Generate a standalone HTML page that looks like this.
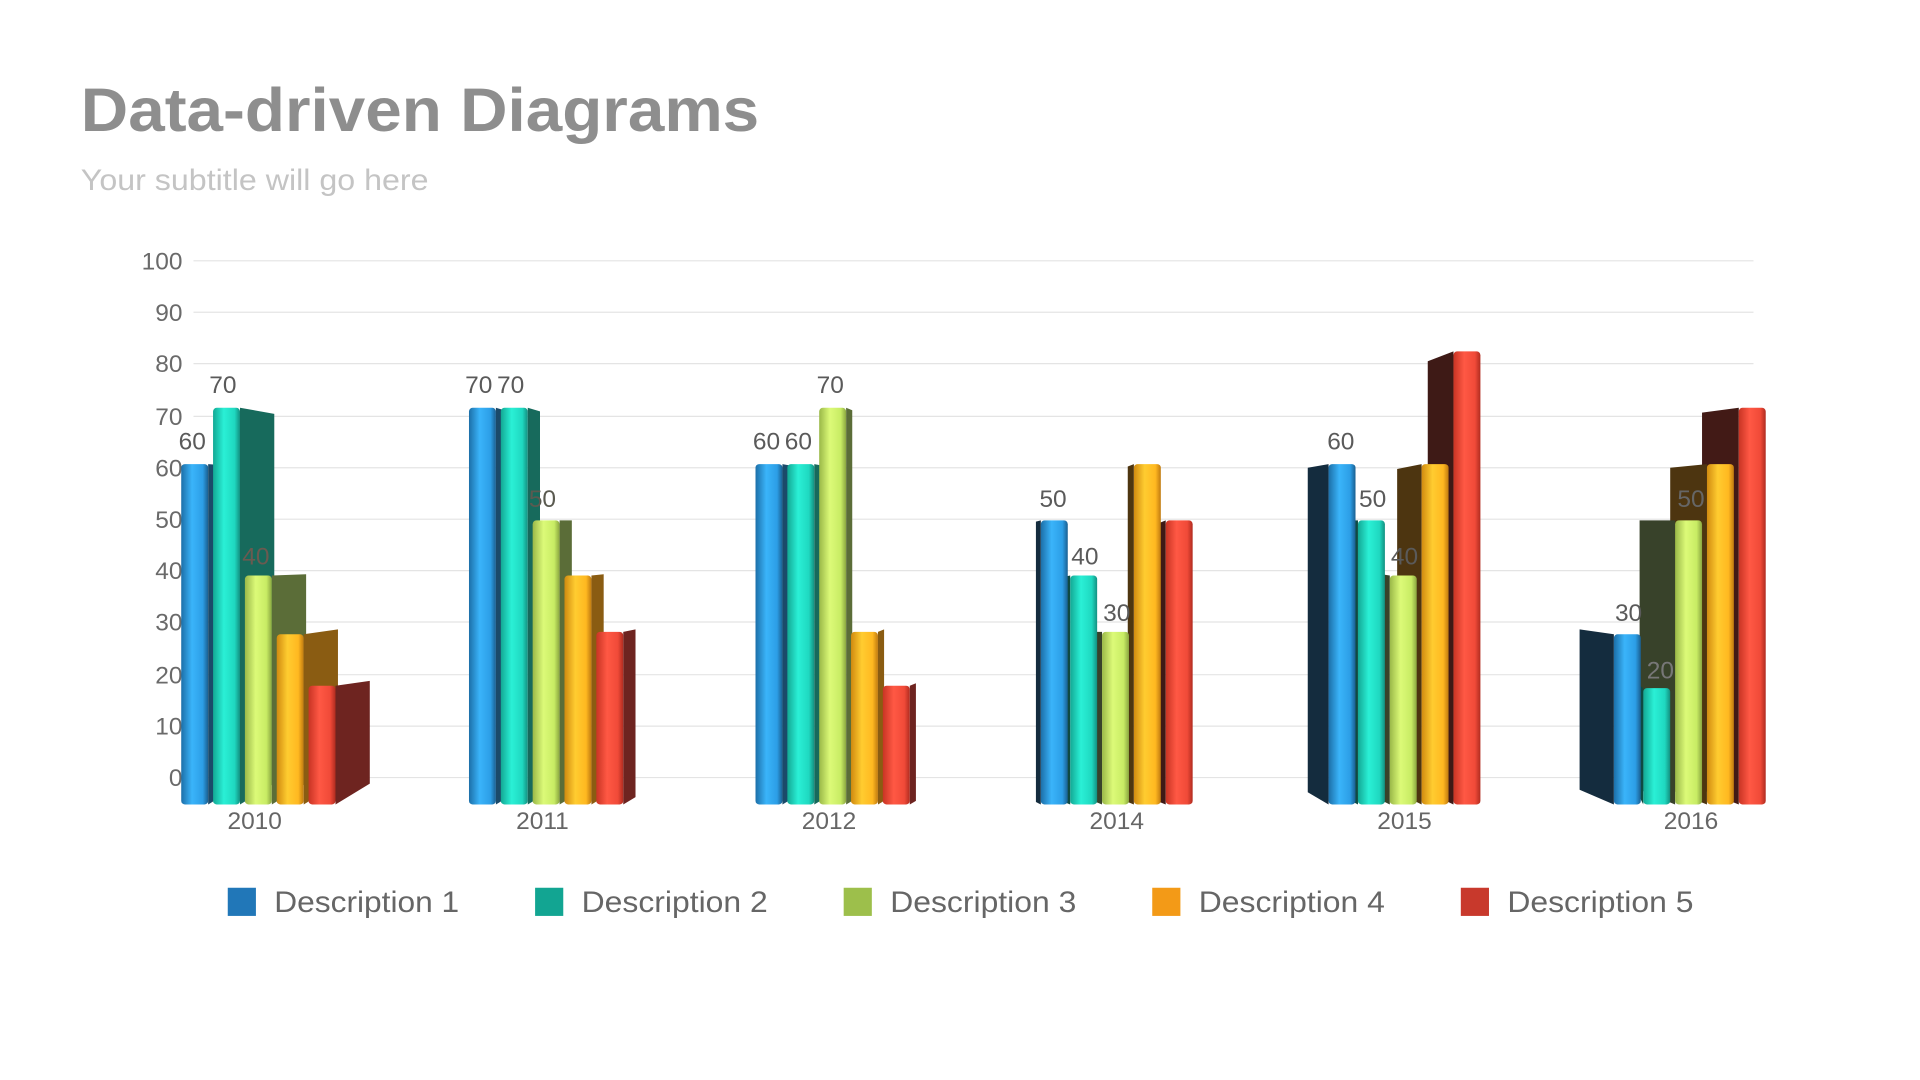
<!DOCTYPE html>
<html><head><meta charset="utf-8"><style>
html,body{margin:0;padding:0;background:#fff;width:1920px;height:1080px;overflow:hidden}
svg{display:block}
text{font-family:"Liberation Sans",Arial,sans-serif}
</style></head><body>
<svg width="1920" height="1080" viewBox="0 0 1568 882" xmlns="http://www.w3.org/2000/svg">
<defs>
<linearGradient id="g1" x1="0" x2="1" y1="0" y2="0"><stop offset="0" stop-color="#1c6fa8"/><stop offset="0.4" stop-color="#3ab4fa"/><stop offset="0.8" stop-color="#2c9ee6"/><stop offset="1" stop-color="#1a5f90"/></linearGradient>
<linearGradient id="g2" x1="0" x2="1" y1="0" y2="0"><stop offset="0" stop-color="#13a894"/><stop offset="0.4" stop-color="#2af0d6"/><stop offset="0.8" stop-color="#1fd8c0"/><stop offset="1" stop-color="#139080"/></linearGradient>
<linearGradient id="g3" x1="0" x2="1" y1="0" y2="0"><stop offset="0" stop-color="#9ab848"/><stop offset="0.4" stop-color="#dcfa78"/><stop offset="0.8" stop-color="#c8ec64"/><stop offset="1" stop-color="#8aa640"/></linearGradient>
<linearGradient id="g4" x1="0" x2="1" y1="0" y2="0"><stop offset="0" stop-color="#d08a10"/><stop offset="0.4" stop-color="#ffcc30"/><stop offset="0.8" stop-color="#ffb820"/><stop offset="1" stop-color="#c07a10"/></linearGradient>
<linearGradient id="g5" x1="0" x2="1" y1="0" y2="0"><stop offset="0" stop-color="#c83424"/><stop offset="0.4" stop-color="#ff5844"/><stop offset="0.8" stop-color="#f04a38"/><stop offset="1" stop-color="#b02c20"/></linearGradient>
</defs>

<text x="66" y="107" font-size="50" font-weight="bold" fill="#8e8e8e" textLength="554" lengthAdjust="spacingAndGlyphs">Data-driven Diagrams</text>
<text x="66" y="155" font-size="24" fill="#c4c4c4" textLength="284" lengthAdjust="spacingAndGlyphs">Your subtitle will go here</text>

<g stroke="#e4e4e4" stroke-width="1">
<line x1="158" y1="213" x2="1432" y2="213"/><line x1="158" y1="255" x2="1432" y2="255"/><line x1="158" y1="297" x2="1432" y2="297"/><line x1="158" y1="340" x2="1432" y2="340"/><line x1="158" y1="382" x2="1432" y2="382"/><line x1="158" y1="424" x2="1432" y2="424"/><line x1="158" y1="466" x2="1432" y2="466"/><line x1="158" y1="508" x2="1432" y2="508"/><line x1="158" y1="551" x2="1432" y2="551"/><line x1="158" y1="593" x2="1432" y2="593"/><line x1="158" y1="635" x2="1432" y2="635"/>
</g>
<g font-size="20" fill="#6a6a6a" text-anchor="end">
<text x="149" y="220">100</text><text x="149" y="262">90</text><text x="149" y="304">80</text><text x="149" y="347">70</text><text x="149" y="389">60</text><text x="149" y="431">50</text><text x="149" y="473">40</text><text x="149" y="515">30</text><text x="149" y="558">20</text><text x="149" y="600">10</text><text x="149" y="642">0</text>
</g>

<!-- 2010 -->
<polygon points="170,379 198,381 198,640 170,657" fill="#1b4a6a"/><rect x="148" y="379" width="22" height="278" rx="3" fill="url(#g1)"/>
<polygon points="196,333 224,338 224,640 196,657" fill="#176a5c"/><rect x="174" y="333" width="22" height="324" rx="3" fill="url(#g2)"/>
<polygon points="222,470 250,469 250,640 222,657" fill="#5b6d38"/><rect x="200" y="470" width="22" height="187" rx="3" fill="url(#g3)"/>
<polygon points="248,518 276,514 276,640 248,657" fill="#8a5c12"/><rect x="226" y="518" width="22" height="139" rx="3" fill="url(#g4)"/>
<polygon points="274,560 302,556 302,640 274,657" fill="#6e2420"/><rect x="252" y="560" width="22" height="97" rx="3" fill="url(#g5)"/>
<!-- 2011 -->
<polygon points="405,333 415,336 415,651 405,657" fill="#1b4a6a"/><rect x="383" y="333" width="22" height="324" rx="3" fill="url(#g1)"/>
<polygon points="431,333 441,336 441,651 431,657" fill="#176a5c"/><rect x="409" y="333" width="22" height="324" rx="3" fill="url(#g2)"/>
<polygon points="457,425 467,425 467,651 457,657" fill="#5b6d38"/><rect x="435" y="425" width="22" height="232" rx="3" fill="url(#g3)"/>
<polygon points="483,470 493,469 493,651 483,657" fill="#8a5c12"/><rect x="461" y="470" width="22" height="187" rx="3" fill="url(#g4)"/>
<polygon points="509,516 519,514 519,651 509,657" fill="#6e2420"/><rect x="487" y="516" width="22" height="141" rx="3" fill="url(#g5)"/>
<!-- 2012 -->
<polygon points="639,379 644,380 644,654 639,657" fill="#1b4a6a"/><rect x="617" y="379" width="22" height="278" rx="3" fill="url(#g1)"/>
<polygon points="665,379 670,380 670,654 665,657" fill="#176a5c"/><rect x="643" y="379" width="22" height="278" rx="3" fill="url(#g2)"/>
<polygon points="691,333 696,335 696,654 691,657" fill="#5b6d38"/><rect x="669" y="333" width="22" height="324" rx="3" fill="url(#g3)"/>
<polygon points="717,516 722,514 722,654 717,657" fill="#8a5c12"/><rect x="695" y="516" width="22" height="141" rx="3" fill="url(#g4)"/>
<polygon points="743,560 748,558 748,654 743,657" fill="#6e2420"/><rect x="721" y="560" width="22" height="97" rx="3" fill="url(#g5)"/>
<!-- 2014 -->
<polygon points="952,425 947,427 947,655 952,657" fill="#3e1a16"/><rect x="952" y="425" width="22" height="232" rx="3" fill="url(#g5)"/>
<polygon points="926,379 921,381 921,655 926,657" fill="#4d3510"/><rect x="926" y="379" width="22" height="278" rx="3" fill="url(#g4)"/>
<polygon points="900,516 895,516 895,655 900,657" fill="#38422a"/><rect x="900" y="516" width="22" height="141" rx="3" fill="url(#g3)"/>
<polygon points="874,470 869,471 869,655 874,657" fill="#0f4a42"/><rect x="874" y="470" width="22" height="187" rx="3" fill="url(#g2)"/>
<polygon points="850,425 846,426 846,655 850,657" fill="#142c3e"/><rect x="850" y="425" width="22" height="232" rx="3" fill="url(#g1)"/>
<!-- 2015 -->
<polygon points="1187,287 1166,295 1166,647 1187,657" fill="#3e1a16"/><rect x="1187" y="287" width="22" height="370" rx="3" fill="url(#g5)"/>
<polygon points="1161,379 1141,383 1141,647 1161,657" fill="#4d3510"/><rect x="1161" y="379" width="22" height="278" rx="3" fill="url(#g4)"/>
<polygon points="1135,470 1115,467 1115,647 1135,657" fill="#38422a"/><rect x="1135" y="470" width="22" height="187" rx="3" fill="url(#g3)"/>
<polygon points="1109,425 1090,425 1090,647 1109,657" fill="#0f4a42"/><rect x="1109" y="425" width="22" height="232" rx="3" fill="url(#g2)"/>
<polygon points="1085,379 1068,382 1068,647 1085,657" fill="#142c3e"/><rect x="1085" y="379" width="22" height="278" rx="3" fill="url(#g1)"/>
<!-- 2016 -->
<polygon points="1420,333 1390,337 1390,645 1420,657" fill="#421a16"/><rect x="1420" y="333" width="22" height="324" rx="3" fill="url(#g5)"/>
<polygon points="1394,379 1364,382 1364,645 1394,657" fill="#4d3510"/><rect x="1394" y="379" width="22" height="278" rx="3" fill="url(#g4)"/>
<polygon points="1368,425 1339,425 1339,645 1368,657" fill="#38422a"/><rect x="1368" y="425" width="22" height="232" rx="3" fill="url(#g3)"/>
<polygon points="1342,562 1336,558 1336,645 1342,657" fill="#0f4a42"/><rect x="1342" y="562" width="22" height="95" rx="3" fill="url(#g2)"/>
<polygon points="1318,518 1290,514 1290,645 1318,657" fill="#142c3e"/><rect x="1318" y="518" width="22" height="139" rx="3" fill="url(#g1)"/>

<g font-size="20" fill="#5a5a5a" text-anchor="middle">
<text x="157" y="367">60</text><text x="182" y="321">70</text><text x="209" y="461" fill="#6a5a50">40</text>
<text x="391" y="321">70</text><text x="417" y="321">70</text><text x="443" y="414" fill="#5a5a50">50</text>
<text x="626" y="367">60</text><text x="652" y="367">60</text><text x="678" y="321">70</text>
<text x="860" y="414">50</text><text x="886" y="461">40</text><text x="912" y="507">30</text>
<text x="1095" y="367">60</text><text x="1121" y="414">50</text><text x="1147" y="461">40</text>
<text x="1330" y="507">30</text><text x="1356" y="554" fill="#777">20</text><text x="1381" y="414" fill="#666">50</text>
</g>
<g font-size="20" fill="#666" text-anchor="middle">
<text x="208" y="677">2010</text><text x="443" y="677">2011</text><text x="677" y="677">2012</text><text x="912" y="677">2014</text><text x="1147" y="677">2015</text><text x="1381" y="677">2016</text>
</g>

<rect x="186" y="725" width="23" height="23" fill="#2177b8"/><text x="224" y="745" font-size="24" fill="#666" textLength="151" lengthAdjust="spacingAndGlyphs">Description 1</text>
<rect x="437" y="725" width="23" height="23" fill="#12a592"/><text x="475" y="745" font-size="24" fill="#666" textLength="152" lengthAdjust="spacingAndGlyphs">Description 2</text>
<rect x="689" y="725" width="23" height="23" fill="#9dbf4b"/><text x="727" y="745" font-size="24" fill="#666" textLength="152" lengthAdjust="spacingAndGlyphs">Description 3</text>
<rect x="941" y="725" width="23" height="23" fill="#f39a17"/><text x="979" y="745" font-size="24" fill="#666" textLength="152" lengthAdjust="spacingAndGlyphs">Description 4</text>
<rect x="1193" y="725" width="23" height="23" fill="#c8392c"/><text x="1231" y="745" font-size="24" fill="#666" textLength="152" lengthAdjust="spacingAndGlyphs">Description 5</text>
</svg>
</body></html>
